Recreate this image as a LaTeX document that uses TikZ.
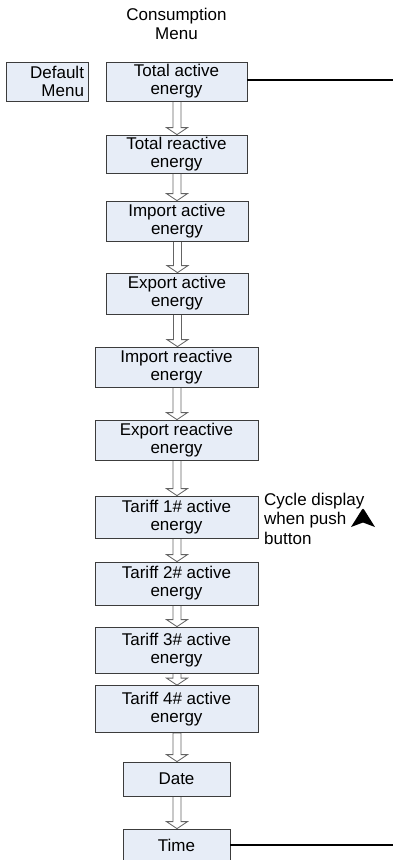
\documentclass[tikz,border=0pt]{standalone}
\usepackage{fontspec}
\setmainfont{Liberation Sans}
\usetikzlibrary{calc,backgrounds}
\definecolor{boxfill}{RGB}{231,237,247}
\definecolor{boxline}{RGB}{60,60,60}
\definecolor{arrline}{RGB}{100,100,100}
\tikzset{
  menubox/.style={draw=boxline, line width=0.8pt, fill=boxfill, align=center, inner sep=0pt,
    font=\fontsize{17}{18}\selectfont},
  plaintext/.style={inner sep=0pt, font=\fontsize{17}{18.5}\selectfont},
  blockarrow/.style={draw=arrline, line width=0.8pt, fill=white, line join=miter},
  linkline/.style={draw=black, line width=1.8pt}
}
\begin{document}
\begin{tikzpicture}[x=1pt,y=-1pt]
\useasboundingbox (0,0) rectangle (393,860);
\node[plaintext, align=center] (title) at (176.5,24) {Consumption\\Menu};
\node[menubox, minimum width=82pt, minimum height=39pt, text width=74pt, align=right, inner xsep=4pt] (def) at (47,81.5) {Default\\Menu};
\node[menubox, minimum width=141pt, minimum height=39pt] (ta) at (176.5,81.5) {Total active\\energy};
\node[menubox, minimum width=141pt, minimum height=38pt] (tr) at (176.5,154) {Total reactive\\energy};
\node[menubox, minimum width=142pt, minimum height=40pt] (ia) at (177,221) {Import active\\energy};
\node[menubox, minimum width=142pt, minimum height=41pt] (ea) at (177,293.5) {Export active\\energy};
\node[menubox, minimum width=163pt, minimum height=40pt] (ir) at (176.5,367) {Import reactive\\energy};
\node[menubox, minimum width=163pt, minimum height=40pt] (er) at (176.5,440) {Export reactive\\energy};
\node[menubox, minimum width=163pt, minimum height=42pt] (t1) at (176.5,517) {Tariff 1\# active\\energy};
\node[menubox, minimum width=163pt, minimum height=43pt] (t2) at (176.5,583.5) {Tariff 2\# active\\energy};
\node[menubox, minimum width=163pt, minimum height=46pt] (t3) at (176.5,650) {Tariff 3\# active\\energy};
\node[menubox, minimum width=163pt, minimum height=47pt] (t4) at (176.5,709) {Tariff 4\# active\\energy};
\node[menubox, minimum width=107pt, minimum height=34pt] (date) at (176.5,779) {Date};
\node[menubox, minimum width=107pt, minimum height=32pt] (time) at (176.5,845) {Time};
\node[plaintext, align=left, anchor=west, font=\fontsize{17}{19.5}\selectfont] (cycle) at (264,518.5) {Cycle display\\when push\\button};
\fill[line join=round] (351,527) -- (362,509.5) .. controls (363,508.5) .. (364,509.5) -- (375,527) -- (363,522.5) -- cycle;
\coordinate (ende1) at (393,80);
\coordinate (ende2) at (393,845);
\draw[linkline] (ta.east |- ende1) -- (ende1);
\draw[linkline] (time.east |- ende2) -- (ende2);
\begin{scope}[on background layer]
\foreach \a/\b in {ta/tr, tr/ia, ia/ea, ea/ir, ir/er, er/t1, t1/t2, t2/t3, t3/t4, t4/date, date/time} {
  \draw[blockarrow] let \p1=($(\a.south)+(0.5,0)$), \p2=(\b.north) in
    (\x1-4pt,\y1) -- (\x1-4pt,\y2+7pt) -- (\x1-10.5pt,\y2+7pt) -- (\x1,\y2)
    -- (\x1+10.5pt,\y2+7pt) -- (\x1+4pt,\y2+7pt) -- (\x1+4pt,\y1) -- cycle;
}
\end{scope}
\end{tikzpicture}
\end{document}
